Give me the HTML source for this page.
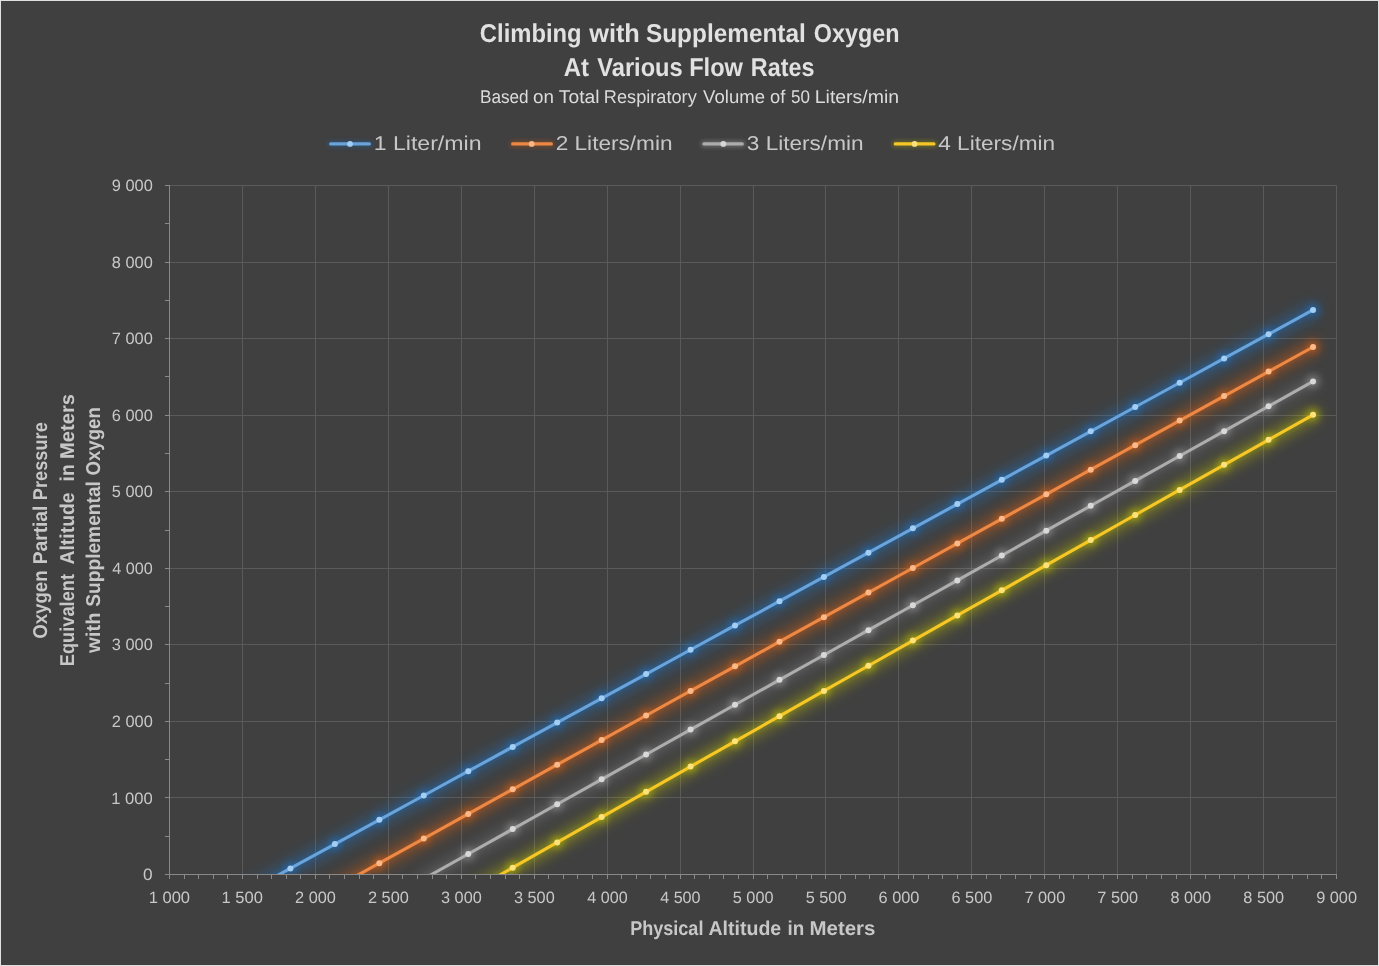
<!DOCTYPE html>
<html><head><meta charset="utf-8"><title>Climbing with Supplemental Oxygen</title>
<style>html,body{margin:0;padding:0;background:#404040;}body{width:1379px;height:966px;overflow:hidden;font-family:"Liberation Sans",sans-serif;}svg{display:block;}text{font-family:"Liberation Sans",sans-serif;}</style>
</head><body>
<svg width="1379" height="966" viewBox="0 0 1379 966">
<defs>
<filter id="glowN" x="-5%" y="-5%" width="110%" height="110%"><feGaussianBlur stdDeviation="2"/></filter>
<filter id="glowW" x="-5%" y="-5%" width="110%" height="110%"><feGaussianBlur stdDeviation="6.5"/></filter>
<filter id="glowL" filterUnits="userSpaceOnUse" x="300" y="120" width="800" height="50"><feGaussianBlur stdDeviation="2"/></filter>
<filter id="glowM" x="-5%" y="-5%" width="110%" height="110%"><feGaussianBlur stdDeviation="3.2"/></filter>
<clipPath id="plot"><rect x="149.5" y="165.5" width="1207.0" height="709.5"/></clipPath>
</defs>
<rect x="0" y="0" width="1379" height="966" fill="#404040"/>
<rect x="0.5" y="0.5" width="1378" height="965" fill="none" stroke="#e0e0e0" stroke-width="1"/>
<path d="M242.50 185.50V874.50M315.50 185.50V874.50M388.50 185.50V874.50M461.50 185.50V874.50M534.50 185.50V874.50M607.50 185.50V874.50M680.50 185.50V874.50M753.50 185.50V874.50M825.50 185.50V874.50M898.50 185.50V874.50M971.50 185.50V874.50M1044.50 185.50V874.50M1117.50 185.50V874.50M1190.50 185.50V874.50M1263.50 185.50V874.50M1336.50 185.50V874.50M169.50 797.50H1336.50M169.50 721.50H1336.50M169.50 644.50H1336.50M169.50 568.50H1336.50M169.50 491.50H1336.50M169.50 415.50H1336.50M169.50 338.50H1336.50M169.50 262.50H1336.50M169.50 185.50H1336.50" stroke="#5a5a5a" stroke-width="1" fill="none"/>
<g clip-path="url(#plot)"><g opacity="0.36" filter="url(#glowW)"><path d="M245.94 892.68L290.40 868.38L334.86 844.08L379.33 819.78L423.79 795.49L468.25 771.19L512.71 746.90L557.18 722.61L601.64 698.33L646.10 674.04L690.57 649.76L735.03 625.47L779.49 601.19L823.95 576.91L868.42 552.63L912.88 528.36L957.34 504.08L1001.80 479.81L1046.27 455.54L1090.73 431.27L1135.19 407.00L1179.66 382.74L1224.12 358.47L1268.58 334.21L1313.04 309.95" stroke="#1e78d2" stroke-width="15" fill="none" stroke-linecap="round" stroke-linejoin="round"/></g><g opacity="0.24" filter="url(#glowN)"><path d="M245.94 892.68L290.40 868.38L334.86 844.08L379.33 819.78L423.79 795.49L468.25 771.19L512.71 746.90L557.18 722.61L601.64 698.33L646.10 674.04L690.57 649.76L735.03 625.47L779.49 601.19L823.95 576.91L868.42 552.63L912.88 528.36L957.34 504.08L1001.80 479.81L1046.27 455.54L1090.73 431.27L1135.19 407.00L1179.66 382.74L1224.12 358.47L1268.58 334.21L1313.04 309.95" stroke="#1e78d2" stroke-width="6" fill="none" stroke-linecap="round" stroke-linejoin="round"/></g><g opacity="0.34" filter="url(#glowM)" fill="#1e78d2"><circle cx="290.40" cy="868.38" r="7"/><circle cx="334.86" cy="844.08" r="7"/><circle cx="379.33" cy="819.78" r="7"/><circle cx="423.79" cy="795.49" r="7"/><circle cx="468.25" cy="771.19" r="7"/><circle cx="512.71" cy="746.90" r="7"/><circle cx="557.18" cy="722.61" r="7"/><circle cx="601.64" cy="698.33" r="7"/><circle cx="646.10" cy="674.04" r="7"/><circle cx="690.57" cy="649.76" r="7"/><circle cx="735.03" cy="625.47" r="7"/><circle cx="779.49" cy="601.19" r="7"/><circle cx="823.95" cy="576.91" r="7"/><circle cx="868.42" cy="552.63" r="7"/><circle cx="912.88" cy="528.36" r="7"/><circle cx="957.34" cy="504.08" r="7"/><circle cx="1001.80" cy="479.81" r="7"/><circle cx="1046.27" cy="455.54" r="7"/><circle cx="1090.73" cy="431.27" r="7"/><circle cx="1135.19" cy="407.00" r="7"/><circle cx="1179.66" cy="382.74" r="7"/><circle cx="1224.12" cy="358.47" r="7"/><circle cx="1268.58" cy="334.21" r="7"/><circle cx="1313.04" cy="309.95" r="7"/></g><g opacity="0.36" filter="url(#glowW)"><path d="M334.86 887.83L379.33 863.20L423.79 838.57L468.25 813.95L512.71 789.34L557.18 764.72L601.64 740.12L646.10 715.51L690.57 690.91L735.03 666.32L779.49 641.73L823.95 617.14L868.42 592.56L912.88 567.99L957.34 543.41L1001.80 518.84L1046.27 494.28L1090.73 469.72L1135.19 445.17L1179.66 420.62L1224.12 396.07L1268.58 371.53L1313.04 346.99" stroke="#e8640a" stroke-width="15" fill="none" stroke-linecap="round" stroke-linejoin="round"/></g><g opacity="0.24" filter="url(#glowN)"><path d="M334.86 887.83L379.33 863.20L423.79 838.57L468.25 813.95L512.71 789.34L557.18 764.72L601.64 740.12L646.10 715.51L690.57 690.91L735.03 666.32L779.49 641.73L823.95 617.14L868.42 592.56L912.88 567.99L957.34 543.41L1001.80 518.84L1046.27 494.28L1090.73 469.72L1135.19 445.17L1179.66 420.62L1224.12 396.07L1268.58 371.53L1313.04 346.99" stroke="#e8640a" stroke-width="6" fill="none" stroke-linecap="round" stroke-linejoin="round"/></g><g opacity="0.32" filter="url(#glowM)" fill="#e8640a"><circle cx="379.33" cy="863.20" r="7"/><circle cx="423.79" cy="838.57" r="7"/><circle cx="468.25" cy="813.95" r="7"/><circle cx="512.71" cy="789.34" r="7"/><circle cx="557.18" cy="764.72" r="7"/><circle cx="601.64" cy="740.12" r="7"/><circle cx="646.10" cy="715.51" r="7"/><circle cx="690.57" cy="690.91" r="7"/><circle cx="735.03" cy="666.32" r="7"/><circle cx="779.49" cy="641.73" r="7"/><circle cx="823.95" cy="617.14" r="7"/><circle cx="868.42" cy="592.56" r="7"/><circle cx="912.88" cy="567.99" r="7"/><circle cx="957.34" cy="543.41" r="7"/><circle cx="1001.80" cy="518.84" r="7"/><circle cx="1046.27" cy="494.28" r="7"/><circle cx="1090.73" cy="469.72" r="7"/><circle cx="1135.19" cy="445.17" r="7"/><circle cx="1179.66" cy="420.62" r="7"/><circle cx="1224.12" cy="396.07" r="7"/><circle cx="1268.58" cy="371.53" r="7"/><circle cx="1313.04" cy="346.99" r="7"/></g><g opacity="0.15" filter="url(#glowW)"><path d="M423.79 878.86L468.25 853.98L512.71 829.11L557.18 804.24L601.64 779.36L646.10 754.49L690.57 729.62L735.03 704.75L779.49 679.87L823.95 655.00L868.42 630.13L912.88 605.25L957.34 580.38L1001.80 555.51L1046.27 530.64L1090.73 505.76L1135.19 480.89L1179.66 456.02L1224.12 431.14L1268.58 406.27L1313.04 381.40" stroke="#c8c8c8" stroke-width="15" fill="none" stroke-linecap="round" stroke-linejoin="round"/></g><g opacity="0.09" filter="url(#glowN)"><path d="M423.79 878.86L468.25 853.98L512.71 829.11L557.18 804.24L601.64 779.36L646.10 754.49L690.57 729.62L735.03 704.75L779.49 679.87L823.95 655.00L868.42 630.13L912.88 605.25L957.34 580.38L1001.80 555.51L1046.27 530.64L1090.73 505.76L1135.19 480.89L1179.66 456.02L1224.12 431.14L1268.58 406.27L1313.04 381.40" stroke="#c8c8c8" stroke-width="6" fill="none" stroke-linecap="round" stroke-linejoin="round"/></g><g opacity="0.28" filter="url(#glowM)" fill="#c8c8c8"><circle cx="468.25" cy="853.98" r="7"/><circle cx="512.71" cy="829.11" r="7"/><circle cx="557.18" cy="804.24" r="7"/><circle cx="601.64" cy="779.36" r="7"/><circle cx="646.10" cy="754.49" r="7"/><circle cx="690.57" cy="729.62" r="7"/><circle cx="735.03" cy="704.75" r="7"/><circle cx="779.49" cy="679.87" r="7"/><circle cx="823.95" cy="655.00" r="7"/><circle cx="868.42" cy="630.13" r="7"/><circle cx="912.88" cy="605.25" r="7"/><circle cx="957.34" cy="580.38" r="7"/><circle cx="1001.80" cy="555.51" r="7"/><circle cx="1046.27" cy="530.64" r="7"/><circle cx="1090.73" cy="505.76" r="7"/><circle cx="1135.19" cy="480.89" r="7"/><circle cx="1179.66" cy="456.02" r="7"/><circle cx="1224.12" cy="431.14" r="7"/><circle cx="1268.58" cy="406.27" r="7"/><circle cx="1313.04" cy="381.40" r="7"/></g><g opacity="0.38" filter="url(#glowW)"><path d="M468.25 893.00L512.71 867.69L557.18 842.39L601.64 817.10L646.10 791.83L690.57 766.58L735.03 741.35L779.49 716.13L823.95 690.93L868.42 665.74L912.88 640.57L957.34 615.42L1001.80 590.29L1046.27 565.17L1090.73 540.06L1135.19 514.98L1179.66 489.91L1224.12 464.85L1268.58 439.82L1313.04 414.80" stroke="#c4c400" stroke-width="15" fill="none" stroke-linecap="round" stroke-linejoin="round"/></g><g opacity="0.24" filter="url(#glowN)"><path d="M468.25 893.00L512.71 867.69L557.18 842.39L601.64 817.10L646.10 791.83L690.57 766.58L735.03 741.35L779.49 716.13L823.95 690.93L868.42 665.74L912.88 640.57L957.34 615.42L1001.80 590.29L1046.27 565.17L1090.73 540.06L1135.19 514.98L1179.66 489.91L1224.12 464.85L1268.58 439.82L1313.04 414.80" stroke="#c4c400" stroke-width="6" fill="none" stroke-linecap="round" stroke-linejoin="round"/></g><g opacity="0.38" filter="url(#glowM)" fill="#c4c400"><circle cx="512.71" cy="867.69" r="7"/><circle cx="557.18" cy="842.39" r="7"/><circle cx="601.64" cy="817.10" r="7"/><circle cx="646.10" cy="791.83" r="7"/><circle cx="690.57" cy="766.58" r="7"/><circle cx="735.03" cy="741.35" r="7"/><circle cx="779.49" cy="716.13" r="7"/><circle cx="823.95" cy="690.93" r="7"/><circle cx="868.42" cy="665.74" r="7"/><circle cx="912.88" cy="640.57" r="7"/><circle cx="957.34" cy="615.42" r="7"/><circle cx="1001.80" cy="590.29" r="7"/><circle cx="1046.27" cy="565.17" r="7"/><circle cx="1090.73" cy="540.06" r="7"/><circle cx="1135.19" cy="514.98" r="7"/><circle cx="1179.66" cy="489.91" r="7"/><circle cx="1224.12" cy="464.85" r="7"/><circle cx="1268.58" cy="439.82" r="7"/><circle cx="1313.04" cy="414.80" r="7"/></g></g>
<g clip-path="url(#plot)"><path d="M245.94 892.68L290.40 868.38L334.86 844.08L379.33 819.78L423.79 795.49L468.25 771.19L512.71 746.90L557.18 722.61L601.64 698.33L646.10 674.04L690.57 649.76L735.03 625.47L779.49 601.19L823.95 576.91L868.42 552.63L912.88 528.36L957.34 504.08L1001.80 479.81L1046.27 455.54L1090.73 431.27L1135.19 407.00L1179.66 382.74L1224.12 358.47L1268.58 334.21L1313.04 309.95" stroke="#69a4dc" stroke-width="3.1" fill="none" stroke-linejoin="round"/><g fill="#a3cdf3"><circle cx="290.40" cy="868.38" r="3"/><circle cx="334.86" cy="844.08" r="3"/><circle cx="379.33" cy="819.78" r="3"/><circle cx="423.79" cy="795.49" r="3"/><circle cx="468.25" cy="771.19" r="3"/><circle cx="512.71" cy="746.90" r="3"/><circle cx="557.18" cy="722.61" r="3"/><circle cx="601.64" cy="698.33" r="3"/><circle cx="646.10" cy="674.04" r="3"/><circle cx="690.57" cy="649.76" r="3"/><circle cx="735.03" cy="625.47" r="3"/><circle cx="779.49" cy="601.19" r="3"/><circle cx="823.95" cy="576.91" r="3"/><circle cx="868.42" cy="552.63" r="3"/><circle cx="912.88" cy="528.36" r="3"/><circle cx="957.34" cy="504.08" r="3"/><circle cx="1001.80" cy="479.81" r="3"/><circle cx="1046.27" cy="455.54" r="3"/><circle cx="1090.73" cy="431.27" r="3"/><circle cx="1135.19" cy="407.00" r="3"/><circle cx="1179.66" cy="382.74" r="3"/><circle cx="1224.12" cy="358.47" r="3"/><circle cx="1268.58" cy="334.21" r="3"/><circle cx="1313.04" cy="309.95" r="3"/></g><path d="M334.86 887.83L379.33 863.20L423.79 838.57L468.25 813.95L512.71 789.34L557.18 764.72L601.64 740.12L646.10 715.51L690.57 690.91L735.03 666.32L779.49 641.73L823.95 617.14L868.42 592.56L912.88 567.99L957.34 543.41L1001.80 518.84L1046.27 494.28L1090.73 469.72L1135.19 445.17L1179.66 420.62L1224.12 396.07L1268.58 371.53L1313.04 346.99" stroke="#ed8945" stroke-width="3.1" fill="none" stroke-linejoin="round"/><g fill="#fbb98a"><circle cx="379.33" cy="863.20" r="3"/><circle cx="423.79" cy="838.57" r="3"/><circle cx="468.25" cy="813.95" r="3"/><circle cx="512.71" cy="789.34" r="3"/><circle cx="557.18" cy="764.72" r="3"/><circle cx="601.64" cy="740.12" r="3"/><circle cx="646.10" cy="715.51" r="3"/><circle cx="690.57" cy="690.91" r="3"/><circle cx="735.03" cy="666.32" r="3"/><circle cx="779.49" cy="641.73" r="3"/><circle cx="823.95" cy="617.14" r="3"/><circle cx="868.42" cy="592.56" r="3"/><circle cx="912.88" cy="567.99" r="3"/><circle cx="957.34" cy="543.41" r="3"/><circle cx="1001.80" cy="518.84" r="3"/><circle cx="1046.27" cy="494.28" r="3"/><circle cx="1090.73" cy="469.72" r="3"/><circle cx="1135.19" cy="445.17" r="3"/><circle cx="1179.66" cy="420.62" r="3"/><circle cx="1224.12" cy="396.07" r="3"/><circle cx="1268.58" cy="371.53" r="3"/><circle cx="1313.04" cy="346.99" r="3"/></g><path d="M423.79 878.86L468.25 853.98L512.71 829.11L557.18 804.24L601.64 779.36L646.10 754.49L690.57 729.62L735.03 704.75L779.49 679.87L823.95 655.00L868.42 630.13L912.88 605.25L957.34 580.38L1001.80 555.51L1046.27 530.64L1090.73 505.76L1135.19 480.89L1179.66 456.02L1224.12 431.14L1268.58 406.27L1313.04 381.40" stroke="#adadad" stroke-width="3.1" fill="none" stroke-linejoin="round"/><g fill="#d8d8d8"><circle cx="468.25" cy="853.98" r="3"/><circle cx="512.71" cy="829.11" r="3"/><circle cx="557.18" cy="804.24" r="3"/><circle cx="601.64" cy="779.36" r="3"/><circle cx="646.10" cy="754.49" r="3"/><circle cx="690.57" cy="729.62" r="3"/><circle cx="735.03" cy="704.75" r="3"/><circle cx="779.49" cy="679.87" r="3"/><circle cx="823.95" cy="655.00" r="3"/><circle cx="868.42" cy="630.13" r="3"/><circle cx="912.88" cy="605.25" r="3"/><circle cx="957.34" cy="580.38" r="3"/><circle cx="1001.80" cy="555.51" r="3"/><circle cx="1046.27" cy="530.64" r="3"/><circle cx="1090.73" cy="505.76" r="3"/><circle cx="1135.19" cy="480.89" r="3"/><circle cx="1179.66" cy="456.02" r="3"/><circle cx="1224.12" cy="431.14" r="3"/><circle cx="1268.58" cy="406.27" r="3"/><circle cx="1313.04" cy="381.40" r="3"/></g><path d="M468.25 893.00L512.71 867.69L557.18 842.39L601.64 817.10L646.10 791.83L690.57 766.58L735.03 741.35L779.49 716.13L823.95 690.93L868.42 665.74L912.88 640.57L957.34 615.42L1001.80 590.29L1046.27 565.17L1090.73 540.06L1135.19 514.98L1179.66 489.91L1224.12 464.85L1268.58 439.82L1313.04 414.80" stroke="#f6c726" stroke-width="3.1" fill="none" stroke-linejoin="round"/><g fill="#ffe27a"><circle cx="512.71" cy="867.69" r="3"/><circle cx="557.18" cy="842.39" r="3"/><circle cx="601.64" cy="817.10" r="3"/><circle cx="646.10" cy="791.83" r="3"/><circle cx="690.57" cy="766.58" r="3"/><circle cx="735.03" cy="741.35" r="3"/><circle cx="779.49" cy="716.13" r="3"/><circle cx="823.95" cy="690.93" r="3"/><circle cx="868.42" cy="665.74" r="3"/><circle cx="912.88" cy="640.57" r="3"/><circle cx="957.34" cy="615.42" r="3"/><circle cx="1001.80" cy="590.29" r="3"/><circle cx="1046.27" cy="565.17" r="3"/><circle cx="1090.73" cy="540.06" r="3"/><circle cx="1135.19" cy="514.98" r="3"/><circle cx="1179.66" cy="489.91" r="3"/><circle cx="1224.12" cy="464.85" r="3"/><circle cx="1268.58" cy="439.82" r="3"/><circle cx="1313.04" cy="414.80" r="3"/></g></g>
<path d="M169.50 185.00V875.00M169.00 874.50H1337.00M165.00 874.50H169.50M165.00 836.50H169.50M165.00 797.50H169.50M165.00 759.50H169.50M165.00 721.50H169.50M165.00 683.50H169.50M165.00 644.50H169.50M165.00 606.50H169.50M165.00 568.50H169.50M165.00 530.50H169.50M165.00 491.50H169.50M165.00 453.50H169.50M165.00 415.50H169.50M165.00 376.50H169.50M165.00 338.50H169.50M165.00 300.50H169.50M165.00 262.50H169.50M165.00 223.50H169.50M165.00 185.50H169.50M169.50 874.50V879.00M184.50 874.50V879.00M198.50 874.50V879.00M213.50 874.50V879.00M227.50 874.50V879.00M242.50 874.50V879.00M257.50 874.50V879.00M271.50 874.50V879.00M286.50 874.50V879.00M300.50 874.50V879.00M315.50 874.50V879.00M329.50 874.50V879.00M344.50 874.50V879.00M359.50 874.50V879.00M373.50 874.50V879.00M388.50 874.50V879.00M402.50 874.50V879.00M417.50 874.50V879.00M432.50 874.50V879.00M446.50 874.50V879.00M461.50 874.50V879.00M475.50 874.50V879.00M490.50 874.50V879.00M505.50 874.50V879.00M519.50 874.50V879.00M534.50 874.50V879.00M548.50 874.50V879.00M563.50 874.50V879.00M577.50 874.50V879.00M592.50 874.50V879.00M607.50 874.50V879.00M621.50 874.50V879.00M636.50 874.50V879.00M650.50 874.50V879.00M665.50 874.50V879.00M680.50 874.50V879.00M694.50 874.50V879.00M709.50 874.50V879.00M723.50 874.50V879.00M738.50 874.50V879.00M753.50 874.50V879.00M767.50 874.50V879.00M782.50 874.50V879.00M796.50 874.50V879.00M811.50 874.50V879.00M825.50 874.50V879.00M840.50 874.50V879.00M855.50 874.50V879.00M869.50 874.50V879.00M884.50 874.50V879.00M898.50 874.50V879.00M913.50 874.50V879.00M928.50 874.50V879.00M942.50 874.50V879.00M957.50 874.50V879.00M971.50 874.50V879.00M986.50 874.50V879.00M1000.50 874.50V879.00M1015.50 874.50V879.00M1030.50 874.50V879.00M1044.50 874.50V879.00M1059.50 874.50V879.00M1073.50 874.50V879.00M1088.50 874.50V879.00M1103.50 874.50V879.00M1117.50 874.50V879.00M1132.50 874.50V879.00M1146.50 874.50V879.00M1161.50 874.50V879.00M1176.50 874.50V879.00M1190.50 874.50V879.00M1205.50 874.50V879.00M1219.50 874.50V879.00M1234.50 874.50V879.00M1248.50 874.50V879.00M1263.50 874.50V879.00M1278.50 874.50V879.00M1292.50 874.50V879.00M1307.50 874.50V879.00M1321.50 874.50V879.00M1336.50 874.50V879.00" stroke="#898989" stroke-width="1" fill="none"/>
<g opacity="0.999" style="text-rendering:geometricPrecision">
<text transform="translate(143.11,880.10) scale(1.0544,1)" font-size="16.4" fill="#c8c8c8" xml:space="preserve">0</text>
<text transform="translate(111.17,803.54) scale(1.0146,1)" font-size="16.4" fill="#c8c8c8" xml:space="preserve">1 000</text>
<text transform="translate(111.68,726.99) scale(1.0019,1)" font-size="16.4" fill="#c8c8c8" xml:space="preserve">2 000</text>
<text transform="translate(111.85,650.43) scale(0.9978,1)" font-size="16.4" fill="#c8c8c8" xml:space="preserve">3 000</text>
<text transform="translate(112.18,573.88) scale(0.9896,1)" font-size="16.4" fill="#c8c8c8" xml:space="preserve">4 000</text>
<text transform="translate(111.85,497.32) scale(0.9978,1)" font-size="16.4" fill="#c8c8c8" xml:space="preserve">5 000</text>
<text transform="translate(111.68,420.77) scale(1.0019,1)" font-size="16.4" fill="#c8c8c8" xml:space="preserve">6 000</text>
<text transform="translate(111.68,344.21) scale(1.0019,1)" font-size="16.4" fill="#c8c8c8" xml:space="preserve">7 000</text>
<text transform="translate(111.85,267.66) scale(0.9978,1)" font-size="16.4" fill="#c8c8c8" xml:space="preserve">8 000</text>
<text transform="translate(111.68,191.10) scale(1.0019,1)" font-size="16.4" fill="#c8c8c8" xml:space="preserve">9 000</text>
<text transform="translate(148.63,902.90) scale(1.0094,1)" font-size="16.4" fill="#c8c8c8" xml:space="preserve">1 000</text>
<text transform="translate(221.56,902.90) scale(1.0094,1)" font-size="16.4" fill="#c8c8c8" xml:space="preserve">1 500</text>
<text transform="translate(295.01,902.90) scale(0.9969,1)" font-size="16.4" fill="#c8c8c8" xml:space="preserve">2 000</text>
<text transform="translate(367.95,902.90) scale(0.9969,1)" font-size="16.4" fill="#c8c8c8" xml:space="preserve">2 500</text>
<text transform="translate(441.05,902.90) scale(0.9927,1)" font-size="16.4" fill="#c8c8c8" xml:space="preserve">3 000</text>
<text transform="translate(513.99,902.90) scale(0.9927,1)" font-size="16.4" fill="#c8c8c8" xml:space="preserve">3 500</text>
<text transform="translate(587.25,902.90) scale(0.9846,1)" font-size="16.4" fill="#c8c8c8" xml:space="preserve">4 000</text>
<text transform="translate(660.19,902.90) scale(0.9846,1)" font-size="16.4" fill="#c8c8c8" xml:space="preserve">4 500</text>
<text transform="translate(732.80,902.90) scale(0.9927,1)" font-size="16.4" fill="#c8c8c8" xml:space="preserve">5 000</text>
<text transform="translate(805.74,902.90) scale(0.9927,1)" font-size="16.4" fill="#c8c8c8" xml:space="preserve">5 500</text>
<text transform="translate(878.51,902.90) scale(0.9969,1)" font-size="16.4" fill="#c8c8c8" xml:space="preserve">6 000</text>
<text transform="translate(951.45,902.90) scale(0.9969,1)" font-size="16.4" fill="#c8c8c8" xml:space="preserve">6 500</text>
<text transform="translate(1024.38,902.90) scale(0.9969,1)" font-size="16.4" fill="#c8c8c8" xml:space="preserve">7 000</text>
<text transform="translate(1097.32,902.90) scale(0.9969,1)" font-size="16.4" fill="#c8c8c8" xml:space="preserve">7 500</text>
<text transform="translate(1170.42,902.90) scale(0.9927,1)" font-size="16.4" fill="#c8c8c8" xml:space="preserve">8 000</text>
<text transform="translate(1243.36,902.90) scale(0.9927,1)" font-size="16.4" fill="#c8c8c8" xml:space="preserve">8 500</text>
<text transform="translate(1316.13,902.90) scale(0.9969,1)" font-size="16.4" fill="#c8c8c8" xml:space="preserve">9 000</text>
<text transform="translate(479.85,42.00) scale(0.9221,1)" font-size="25.8" font-weight="bold" fill="#e2e2e2" xml:space="preserve">Climbing</text>
<text transform="translate(589.20,42.00) scale(0.9810,1)" font-size="25.8" font-weight="bold" fill="#e2e2e2" xml:space="preserve">with</text>
<text transform="translate(645.97,42.00) scale(0.9450,1)" font-size="25.8" font-weight="bold" fill="#e2e2e2" xml:space="preserve">Supplemental</text>
<text transform="translate(813.77,42.00) scale(0.9055,1)" font-size="25.8" font-weight="bold" fill="#e2e2e2" xml:space="preserve">Oxygen</text>
<text transform="translate(563.78,76.20) scale(0.9287,1)" font-size="25.8" font-weight="bold" fill="#e2e2e2" xml:space="preserve">At</text>
<text transform="translate(597.26,76.20) scale(0.9167,1)" font-size="25.8" font-weight="bold" fill="#e2e2e2" xml:space="preserve">Various</text>
<text transform="translate(689.15,76.20) scale(0.9155,1)" font-size="25.8" font-weight="bold" fill="#e2e2e2" xml:space="preserve">Flow</text>
<text transform="translate(750.87,76.20) scale(0.9044,1)" font-size="25.8" font-weight="bold" fill="#e2e2e2" xml:space="preserve">Rates</text>
<text transform="translate(479.93,102.70) scale(0.9334,1)" font-size="18.4" fill="#dcdcdc" xml:space="preserve">Based</text>
<text transform="translate(533.05,102.70) scale(1.0224,1)" font-size="18.4" fill="#dcdcdc" xml:space="preserve">on</text>
<text transform="translate(558.81,102.70) scale(1.0468,1)" font-size="18.4" fill="#dcdcdc" xml:space="preserve">Total</text>
<text transform="translate(603.85,102.70) scale(0.9876,1)" font-size="18.4" fill="#dcdcdc" xml:space="preserve">Respiratory</text>
<text transform="translate(703.11,102.70) scale(1.0091,1)" font-size="18.4" fill="#dcdcdc" xml:space="preserve">Volume</text>
<text transform="translate(770.07,102.70) scale(0.9975,1)" font-size="18.4" fill="#dcdcdc" xml:space="preserve">of</text>
<text transform="translate(791.02,102.70) scale(0.9234,1)" font-size="18.4" fill="#dcdcdc" xml:space="preserve">50</text>
<text transform="translate(814.74,102.70) scale(1.0584,1)" font-size="18.4" fill="#dcdcdc" xml:space="preserve">Liters/min</text>
<g opacity="0.28" filter="url(#glowL)"><path d="M330.70 143.9H369.30" stroke="#1e78d2" stroke-width="7" stroke-linecap="round" fill="none"/></g>
<path d="M330.70 143.9H369.30" stroke="#69a4dc" stroke-width="3.3" stroke-linecap="round" fill="none"/><circle cx="350.00" cy="143.9" r="2.9" fill="#a3cdf3"/>
<text transform="translate(373.65,149.80) scale(1.1549,1)" font-size="20.0" fill="#c8c8c8" xml:space="preserve">1 Liter/min</text>
<g opacity="0.28" filter="url(#glowL)"><path d="M512.70 143.9H551.30" stroke="#e8640a" stroke-width="7" stroke-linecap="round" fill="none"/></g>
<path d="M512.70 143.9H551.30" stroke="#ed8945" stroke-width="3.3" stroke-linecap="round" fill="none"/><circle cx="531.70" cy="143.9" r="2.9" fill="#fbb98a"/>
<text transform="translate(555.67,149.80) scale(1.1307,1)" font-size="20.0" fill="#c8c8c8" xml:space="preserve">2 Liters/min</text>
<g opacity="0.28" filter="url(#glowL)"><path d="M704.00 143.9H742.20" stroke="#c8c8c8" stroke-width="7" stroke-linecap="round" fill="none"/></g>
<path d="M704.00 143.9H742.20" stroke="#adadad" stroke-width="3.3" stroke-linecap="round" fill="none"/><circle cx="723.30" cy="143.9" r="2.9" fill="#d8d8d8"/>
<text transform="translate(746.80,149.80) scale(1.1294,1)" font-size="20.0" fill="#c8c8c8" xml:space="preserve">3 Liters/min</text>
<g opacity="0.28" filter="url(#glowL)"><path d="M895.30 143.9H933.90" stroke="#c4c400" stroke-width="7" stroke-linecap="round" fill="none"/></g>
<path d="M895.30 143.9H933.90" stroke="#f6c726" stroke-width="3.3" stroke-linecap="round" fill="none"/><circle cx="914.60" cy="143.9" r="2.9" fill="#ffe27a"/>
<text transform="translate(938.25,149.80) scale(1.1309,1)" font-size="20.0" fill="#c8c8c8" xml:space="preserve">4 Liters/min</text>
<text transform="translate(630.14,934.80) scale(0.9031,1)" font-size="20.0" font-weight="bold" fill="#c8c8c8" xml:space="preserve">Physical</text>
<text transform="translate(708.51,934.80) scale(0.9768,1)" font-size="20.0" font-weight="bold" fill="#c8c8c8" xml:space="preserve">Altitude</text>
<text transform="translate(787.48,934.80) scale(0.9408,1)" font-size="20.0" font-weight="bold" fill="#c8c8c8" xml:space="preserve">in</text>
<text transform="translate(809.47,934.80) scale(1.0225,1)" font-size="20.0" font-weight="bold" fill="#c8c8c8" xml:space="preserve">Meters</text>
<text transform="translate(47.00,638.75) rotate(-90) scale(0.9314,1)" font-size="20.0" font-weight="bold" fill="#c8c8c8" xml:space="preserve">Oxygen</text>
<text transform="translate(47.00,564.34) rotate(-90) scale(0.9606,1)" font-size="20.0" font-weight="bold" fill="#c8c8c8" xml:space="preserve">Partial</text>
<text transform="translate(47.00,500.17) rotate(-90) scale(0.9103,1)" font-size="20.0" font-weight="bold" fill="#c8c8c8" xml:space="preserve">Pressure</text>
<text transform="translate(74.00,666.18) rotate(-90) scale(0.9115,1)" font-size="20.0" font-weight="bold" fill="#c8c8c8" xml:space="preserve">Equivalent</text>
<text transform="translate(74.00,564.58) rotate(-90) scale(0.9699,1)" font-size="20.0" font-weight="bold" fill="#c8c8c8" xml:space="preserve">Altitude</text>
<text transform="translate(74.00,481.45) rotate(-90) scale(0.9671,1)" font-size="20.0" font-weight="bold" fill="#c8c8c8" xml:space="preserve">in</text>
<text transform="translate(74.00,458.91) rotate(-90) scale(1.0064,1)" font-size="20.0" font-weight="bold" fill="#c8c8c8" xml:space="preserve">Meters</text>
<text transform="translate(100.30,652.90) rotate(-90) scale(1.0103,1)" font-size="20.0" font-weight="bold" fill="#c8c8c8" xml:space="preserve">with</text>
<text transform="translate(100.30,606.77) rotate(-90) scale(0.9582,1)" font-size="20.0" font-weight="bold" fill="#c8c8c8" xml:space="preserve">Supplemental</text>
<text transform="translate(100.30,475.44) rotate(-90) scale(0.9300,1)" font-size="20.0" font-weight="bold" fill="#c8c8c8" xml:space="preserve">Oxygen</text>
</g>
</svg></body></html>
